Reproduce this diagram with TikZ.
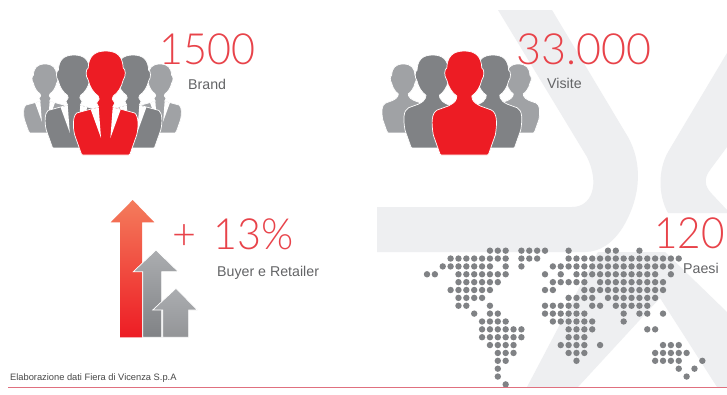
\documentclass[tikz,border=0pt]{standalone}
\usepackage{fontspec}
\setmainfont{Liberation Sans}
\newfontfamily\numfont{Lato Light}
\definecolor{bandgrey}{HTML}{EEEFF1}
\definecolor{redmain}{HTML}{ED1C24}
\definecolor{numred}{HTML}{E8434A}
\definecolor{midgrey}{HTML}{808285}
\definecolor{fargrey}{HTML}{A0A2A5}
\definecolor{labelgrey}{HTML}{636466}
\definecolor{dotgrey}{HTML}{808285}
\definecolor{rulepink}{HTML}{E0707F}
\definecolor{arrowtop}{HTML}{F47C5C}
\definecolor{greytop}{HTML}{ABADB0}
\tikzset{
  band/.style={fill=bandgrey,draw=none},
  bignum/.style={anchor=base west,inner sep=0pt,text=numred,font=\numfont\fontsize{43}{43}\selectfont},
  lab/.style={anchor=base west,inner sep=0pt,text=labelgrey,font=\fontsize{14.2}{14.2}\selectfont},
  sil/.style={draw=white,line width=0.7pt,line join=round},
  up/.style={draw=white,line width=0.7pt,line join=miter}
}
\newcommand{\headpath}{(0,0) .. controls (12,0) and (17,6) .. (17.5,17)
  .. controls (20,18) and (20.5,25) .. (17.5,29)
  .. controls (16,36) and (12,42) .. (7.5,45)}
\newcommand{\headback}{(-7.5,45) .. controls (-12,42) and (-16,36) .. (-17.5,29)
  .. controls (-20.5,25) and (-20,18) .. (-17.5,17)
  .. controls (-17,6) and (-12,0) .. (0,0)}
\newcommand{\suitfig}[4]{%
  \begin{scope}[shift={(#1,#2)},scale=#3]
    \fill[#4,sil] \headpath -- (6.5,48) -- (9,52) -- (7,56)
      -- (29,62) .. controls (33,65) and (33,76) .. (31,84) -- (25,101) .. controls (24.5,103) and (24,104) .. (23,104)
      -- (-23,104) .. controls (-24,104) and (-24.5,103) .. (-25,101) -- (-31,84)
      .. controls (-33,76) and (-33,65) .. (-29,62) -- (-7,56) -- (-9,52) -- (-6.5,48) -- \headback -- cycle;
    \fill[white] (-15,58.5) -- (-7,56.5) -- (-4.7,87) -- cycle;
    \fill[white] (15,58.5) -- (7,56.5) -- (4.7,87) -- cycle;
  \end{scope}}
\newcommand{\plainfig}[4]{%
  \begin{scope}[shift={(#1,#2)},scale=#3]
    \fill[#4,sil] \headpath -- (8,48) .. controls (9,51) and (12,53) .. (16,55)
      -- (27,59) .. controls (33,62) and (33,72) .. (31,84) -- (25,101) .. controls (24.5,103) and (24,104) .. (23,104)
      -- (-23,104) .. controls (-24,104) and (-24.5,103) .. (-25,101) -- (-31,84)
      .. controls (-33,72) and (-33,62) .. (-27,59) -- (-16,55) .. controls (-12,53) and (-9,51) .. (-8,48)
      -- \headback -- cycle;
  \end{scope}}
\begin{document}
\begin{tikzpicture}[x=1pt,y=-1pt]
\useasboundingbox (0,0) rectangle (727,394);
\fill[white] (0,0) rectangle (727,394);
% background logo
\fill[band] (498,10) -- (552,10) -- (628,137) .. controls (642,162) and (642,195) .. (623,227)
  .. controls (613,243) and (600,252) .. (585,252) -- (377,252) -- (377,207) -- (572,207)
  .. controls (592,207) and (600,184) .. (587,157) -- cycle;
\fill[band] (727,53) -- (668,152) .. controls (658,170) and (658,195) .. (668,213) -- (727,213) -- (727,210)
  -- (712,194) .. controls (704,186) and (704,178) .. (710,170) -- (727,147) -- cycle;
\fill[band] (598,252) -- (665,252) -- (727,312) -- (727,387) -- (717,387) -- (660,298) -- (578,387) -- (527,387) -- cycle;
% people, group 1
\suitfig{45}{64}{0.663}{fargrey}
\suitfig{160}{64}{0.663}{fargrey}
\suitfig{74}{55}{0.894}{midgrey}
\suitfig{133}{55}{0.894}{midgrey}
\suitfig{105.7}{51}{1}{redmain}
% people, group 2
\plainfig{403.3}{64}{0.663}{fargrey}
\plainfig{518.3}{64}{0.663}{fargrey}
\plainfig{432.7}{55}{0.894}{midgrey}
\plainfig{493}{55}{0.894}{midgrey}
\plainfig{464.3}{51}{1}{redmain}
% arrows
\path[draw=none,top color=arrowtop,bottom color=redmain] (132.7,200) -- (154.3,222.3) -- (142,222.3) -- (142,337.3) -- (120,337.3) -- (120,222.3) -- (110.7,222.3) -- cycle;
\path[up,top color=greytop,bottom color=midgrey] (156,250) -- (178.3,271.7) -- (161.7,271.7) -- (161.7,337.3) -- (142.7,337.3) -- (142.7,271.7) -- (133.3,271.7) -- cycle;
\path[up,top color=greytop,bottom color=midgrey!85!white] (176,288.3) -- (197.3,310) -- (188.7,310) -- (188.7,337.3) -- (162.7,337.3) -- (162.7,310) -- (152.7,310) -- cycle;
% map dots
\foreach \r/\cols in {
 0/{8,9,10,12,13,14,15,18,23,24,27},
 1/{3,4,5,6,7,8,9,10,12,13,14,18,19,20,21,22,23,24,25,26,27,28,29,30,31,32},
 2/{2,3,4,5,6,7,8,10,12,16,17,18,19,20,21,22,23,24,25,26,27,28,29,30,31},
 3/{0,1,4,5,6,7,8,9,10,15,17,19,20,21,22,23,24,25,26,27,28,29,31},
 4/{4,5,6,7,8,9,16,17,18,19,20,22,23,24,25,26,27,28,29,30},
 5/{3,4,5,6,7,8,15,16,20,21,22,23,24,25,26,27,28,29,30},
 6/{4,5,6,7,18,19,20,21,23,24,25,26,27,28,29},
 7/{4,5,8,15,16,17,18,19,21,22,24,25,26,27,28},
 8/{6,8,9,15,16,17,18,19,20,25,27,28,30},
 9/{7,8,9,10,16,17,18,19,20,21,25},
 10/{7,8,9,10,11,12,18,19,20,21,28,29},
 11/{7,8,9,10,11,12,18,19,20},
 12/{8,9,10,11,17,18,19,20,22,30,31,32},
 13/{9,10,11,18,19,20,29,30,31,32,33},
 14/{9,10,19,29,30,31,32,35},
 15/{9,32,34},
 16/{9,33},
 17/{10}}{
  \foreach \c in \cols {
    \fill[dotgrey] ({427+7.867*\c},{250.67+7.867*\r}) circle[radius=3.2pt];
  }
}
% bottom rule
\fill[rulepink] (8,386.5) rectangle (727,388);
% numbers
\node[bignum] (n1) at (159.5,64) {\scalebox{0.96}[1]{1500}};
\node[bignum] (n2) at (516,64) {33.000};
\node[bignum] (n3) at (654,248) {\scalebox{0.94}[1]{120}};
\node[bignum] (n4) at (172,249) {\scalebox{0.96}[1]{+\hspace{6.5pt} 13\%}};
% labels
\node[lab] (l1) at (188,89) {Brand};
\node[lab] (l2) at (547,88) {Visite};
\node[lab] (l3) at (683,273) {Paesi};
\node[lab] (l4) at (217,276) {Buyer e Retailer};
\node[anchor=base west,inner sep=0pt,text=black!72,font=\fontsize{9.3}{9.3}\selectfont] (src) at (10,380) {Elaborazione dati Fiera di Vicenza S.p.A};
\end{tikzpicture}
\end{document}
